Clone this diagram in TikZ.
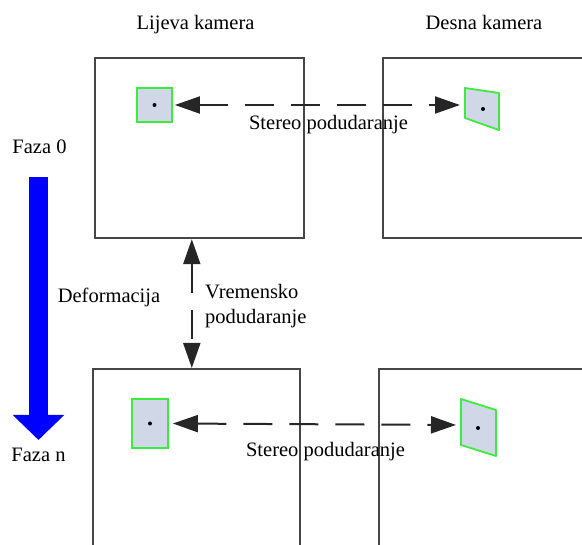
\documentclass[tikz,border=0pt]{standalone}
\usepackage{fontspec}
\setmainfont{Liberation Serif}
\usepackage{xcolor}
\usetikzlibrary{arrows.meta,positioning}
\definecolor{framegray}{RGB}{70,70,70}
\definecolor{patchgreen}{RGB}{60,235,60}
\definecolor{patchfill}{RGB}{208,216,232}

\begin{document}
\begin{tikzpicture}[
    x=1pt, y=-1pt,
    font=\fontsize{20.5}{25}\selectfont,
    cam/.style={rectangle, draw=framegray, line width=2.2pt, anchor=north west, inner sep=0pt},
    patch/.style={rectangle, draw=patchgreen, fill=patchfill, line width=1.8pt, inner sep=0pt},
    warped/.style={draw=patchgreen, fill=patchfill, line width=1.8pt, line join=round},
    pixel/.style={circle, fill=black, inner sep=0pt, minimum size=4pt},
    match/.style={{Triangle[length=25pt,width=17pt]}-{Triangle[length=25pt,width=17pt]}, line width=2pt, draw=black!85, dash pattern=on 29pt off 17pt},
    deform/.style={-{Triangle[length=25pt,width=50pt]}, line width=19pt, draw=blue},
    txt/.style={inner sep=0pt, anchor=base},
]
\useasboundingbox (0,0) rectangle (582,545);
\clip (0,0) rectangle (582,545);

% Camera frames
\node[cam, minimum width=209pt, minimum height=180pt] (tl) at (94,57) {};
\node[cam, minimum width=220pt, minimum height=180pt] (tr) at (382,57) {};
\node[cam, minimum width=207pt, minimum height=200pt] (bl) at (92,368) {};
\node[cam, minimum width=220pt, minimum height=200pt] (br) at (378,368) {};

\node[txt] (lcam) at (195.5,30) {Lijeva kamera};
\node[txt] (dcam) at (484,30) {Desna kamera};

% Patches, phase 0
\node[patch, minimum width=35pt, minimum height=34pt] (tp) at (154.5,105) {};
\node[pixel] (tpdot) at (tp.center) {};
\draw[warped] (465,88) -- (499,93) -- (499,130) -- (465,118) -- cycle;
\coordinate (tq) at (465,105);
\node[pixel] (tqdot) at (483,109) {};

% Patches, phase n
\node[patch, minimum width=36pt, minimum height=49pt] (bp) at (150,423.5) {};
\node[pixel] (bpdot) at (bp.center) {};
\draw[warped] (461,399) -- (496,410) -- (496,456) -- (461,445) -- cycle;
\coordinate (bq) at (461,425);
\node[pixel] (bqdot) at (478,428) {};

% Matching arrows
\draw[match, shorten <=2pt, shorten >=5pt] (tp.east) -- (tq);
\node[txt] (tstereo) at (328.5,130) {Stereo podudaranje};
\draw[match, shorten <=4pt, shorten >=5pt] (bp.east) -- (bq);
\node[txt] (bstereo) at (325.5,457) {Stereo podudaranje};
\draw[match] ([xshift=-7.8pt]tl.south) -- ([xshift=-7.8pt]tl.south |- bl.north);
\node[align=left, anchor=west, inner sep=0pt] (vrem) at (205,306) {Vremensko\\podudaranje};

% Deformation
\coordinate (dtop) at (38.5,177);
\coordinate (dbot) at (38.5,440);
\draw[deform] (dtop) -- (dbot);
\node[txt] (faza0) at (39.5,154) {Faza 0};
\node[txt] (fazan) at (38.5,462) {Faza n};
\node[txt] (deflbl) at (109,303) {Deformacija};

\end{tikzpicture}
\end{document}
